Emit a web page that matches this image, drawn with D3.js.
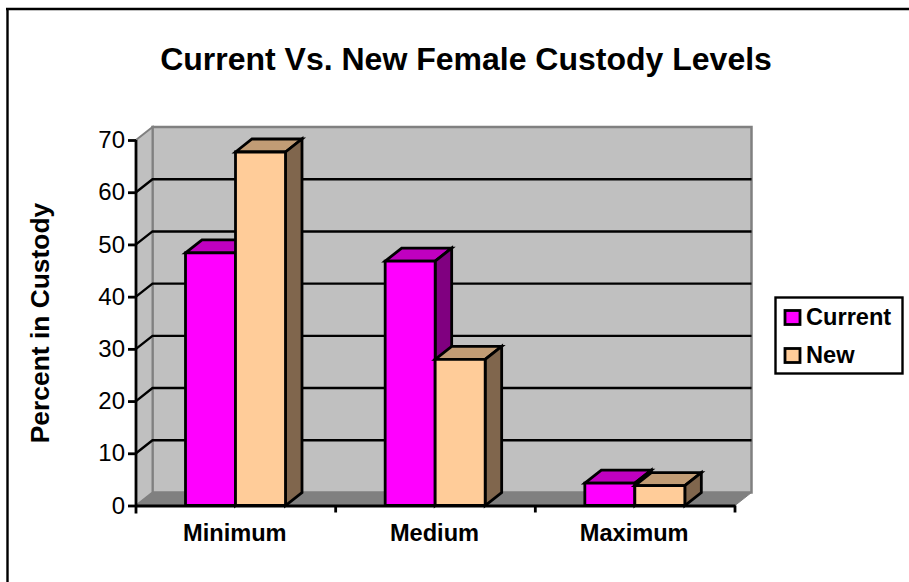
<!DOCTYPE html>
<html><head><meta charset="utf-8">
<script src="https://cdn.jsdelivr.net/npm/d3@7/dist/d3.min.js"></script>
<style>html,body{margin:0;padding:0;background:#fff;overflow:hidden}svg{display:block}text{font-family:"Liberation Sans",Arial,sans-serif;font-weight:bold;fill:#000}</style>
</head><body><svg id="c" width="909" height="582"></svg>
<script>
const title = "Current Vs. New Female Custody Levels";
const yTitle = "Percent in Custody";
const categories = ["Minimum","Medium","Maximum"];
const seriesNames = ["Current","New"];
const currentValues = [48.4,46.8,4.3];
const newValues = [67.7,28.0,3.8];
const yTicks = [0,10,20,30,40,50,60,70];

const front = ["#FF00FF","#FFCC99"];
const tops = ["#C000C0","#C19C75"];
const sides = ["#800080","#80664D"];
const dx = 16.5, dy = -13;
const lw = 2.8;
const svg = d3.select("#c");
const x = d3.scaleBand().domain(categories).range([136,735]);
const x1 = d3.scaleBand().domain(seriesNames).range([49.5,149.5]);
const y = d3.scaleLinear().domain([0,70]).range([505.5,140]);
const L = x.range()[0], R = x.range()[1], B = y(0), T = y(70);

const poly = (pts,fill,stroke,w) => svg.append("path")
  .attr("d",d3.line()(pts)+"Z").attr("fill",fill)
  .attr("stroke",stroke).attr("stroke-width",w).attr("stroke-linejoin","miter");

// frame: only the top and left edges are visible in the picture
svg.append("path").attr("d","M6,9H909M7.5,8V582").attr("fill","none").attr("stroke","#000").attr("stroke-width",2.4);

// walls
poly([[L+dx,T+dy],[R+dx,T+dy],[R+dx,B+dy],[L+dx,B+dy]],"#C0C0C0","#808080",2.5);
poly([[L,T],[L+dx,T+dy],[L+dx,B+dy],[L,B]],"#C0C0C0","#808080",2);
poly([[L,B],[L+dx,B+dy],[R+dx,B+dy],[R,B]],"#808080","#808080",1);

// gridlines
yTicks.filter(d=>d>0 && d<70).forEach(d=>{
  svg.append("path").attr("fill","none").attr("stroke","#000").attr("stroke-width",2.4)
   .attr("d",d3.line()([[L,y(d)],[L+dx,y(d)+dy],[R+dx,y(d)+dy]]));
});

// bars
const data = [currentValues,newValues];
categories.forEach((c,ci)=>{
  seriesNames.forEach((s,si)=>{
    const v = data[si][ci];
    const a = x(c)+x1(s), b = a+x1.bandwidth(), t = y(v);
    poly([[a,t],[a+dx,t+dy],[b+dx,t+dy],[b,t]],tops[si],"#000",lw);
    poly([[b,t],[b+dx,t+dy],[b+dx,B+dy],[b,B]],sides[si],"#000",lw);
    poly([[a,t],[b,t],[b,B],[a,B]],front[si],"#000",lw);
  });
});

// axes
const yAxis = svg.append("g").attr("transform",`translate(${L},0)`)
  .call(d3.axisLeft(y).tickValues(yTicks).tickSize(8).tickPadding(3));
const xAxis = svg.append("g").attr("transform",`translate(0,${B})`)
  .call(d3.axisBottom(x).tickValues([]).tickSizeOuter(0));
yAxis.selectAll("line,path").attr("stroke","#000").attr("stroke-width",lw);
xAxis.select("path").attr("stroke","#000").attr("stroke-width",lw);
yAxis.select(".domain").attr("d",`M0,${T}V${B+8}`);
yAxis.selectAll("text").style("font-family",'"Liberation Sans",Arial,sans-serif')
  .style("font-size","24px").style("font-weight","normal").attr("fill","#000");
const xb = [...categories.map(c=>x(c)).slice(1),R];
svg.selectAll(".xt").data(xb).join("line").attr("x1",d=>d).attr("x2",d=>d)
  .attr("y1",B).attr("y2",B+7).attr("stroke","#000").attr("stroke-width",lw);
svg.selectAll(".xl").data(categories).join("text")
  .attr("x",d=>x(d)+x.bandwidth()/2-1).attr("y",540.5).attr("text-anchor","middle")
  .attr("font-size","23.6px").text(d=>d);

// titles
svg.append("text").attr("x",466).attr("y",69.5).attr("text-anchor","middle").attr("font-size","32px").text(title);
svg.append("text").attr("transform","translate(49,323) rotate(-90)").attr("text-anchor","middle").attr("font-size","26.4px").text(yTitle);

// legend
svg.append("rect").attr("x",775.5).attr("y",297.5).attr("width",127).attr("height",76).attr("fill","#fff").attr("stroke","#000").attr("stroke-width",2.4);
seriesNames.forEach((s,i)=>{
  const cy = [317.5,355.5][i];
  svg.append("rect").attr("x",785).attr("y",cy-7).attr("width",15).attr("height",14).attr("fill",front[i]).attr("stroke","#000").attr("stroke-width",lw);
  svg.append("text").attr("x",806).attr("y",cy+7.7).attr("font-size","23.6px").text(s);
});
</script></body></html>
